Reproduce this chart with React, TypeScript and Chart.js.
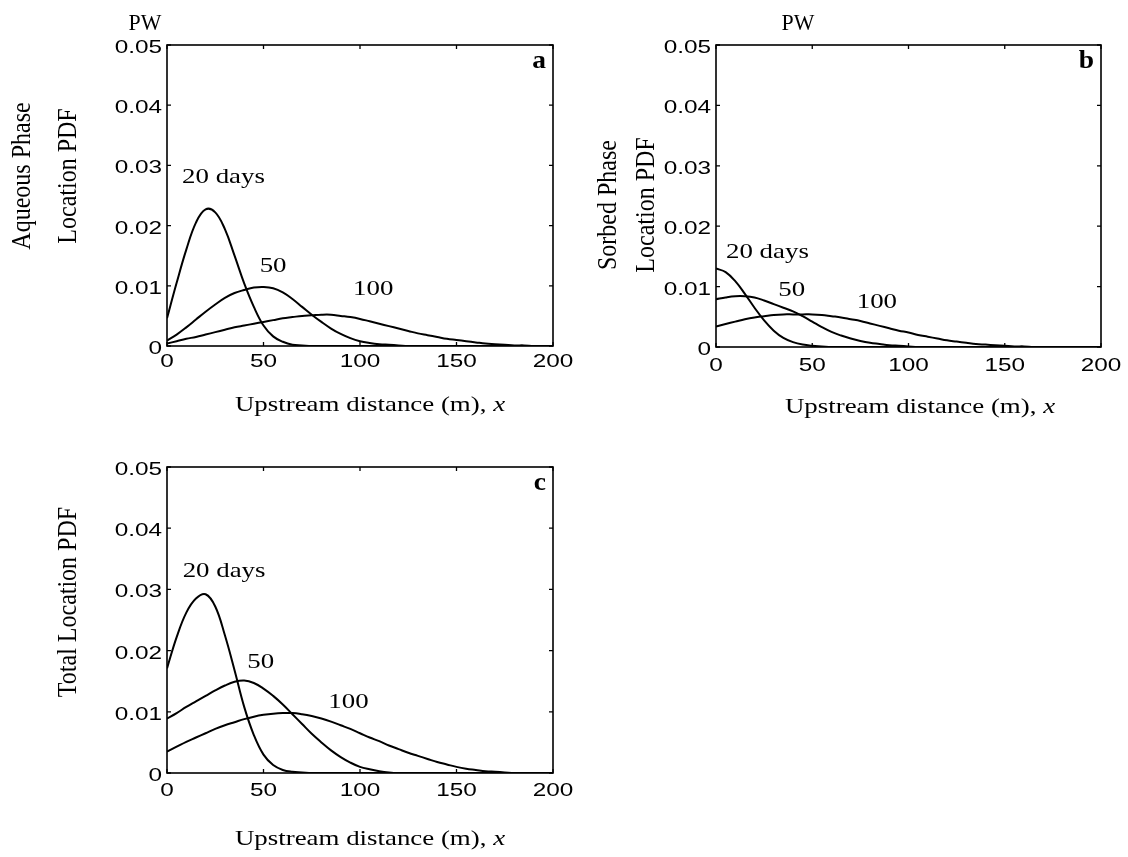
import React, { useEffect, useRef } from "react";
import { Chart, registerables } from "chart.js";

Chart.register(...registerables);

// ---------- data ----------
const X_GRID = [
  0, 5, 10, 15, 20, 25, 30, 35, 40, 45, 50, 55, 60, 65, 70, 75, 80, 85, 90, 95, 100,
  105, 110, 115, 120, 125, 130, 135, 140, 145, 150, 155, 160, 165, 170, 175, 180, 185, 190, 195, 200,
];

const X_TICKS = [0, 50, 100, 150, 200];
const Y_TICKS = [0, 0.01, 0.02, 0.03, 0.04, 0.05];

// Panel a: aqueous phase
const AQ_20 = [
  0.0046, 0.0105, 0.016, 0.0205, 0.0227, 0.0222, 0.0194, 0.015, 0.0104, 0.0065, 0.0034, 0.0016, 0.0007, 0.0002, 0.0001,
  0, 0, 0, 0, 0, 0, 0, 0, 0, 0, 0, 0, 0, 0, 0, 0, 0, 0, 0, 0, 0, 0, 0, 0, 0, 0,
];
const AQ_50 = [
  0.0009, 0.0019, 0.0031, 0.0044, 0.0057, 0.0069, 0.008, 0.0088, 0.0093, 0.0097, 0.0098, 0.0096, 0.0089, 0.0078, 0.0065,
  0.0052, 0.004, 0.0029, 0.002, 0.0013, 0.0008, 0.0005, 0.0003, 0.0002, 0.0001,
  0, 0, 0, 0, 0, 0, 0, 0, 0, 0, 0, 0, 0, 0, 0, 0,
];
const AQ_100 = [
  0.0004, 0.0008, 0.0012, 0.0015, 0.0019, 0.0023, 0.0027, 0.0031, 0.0034, 0.0037, 0.004, 0.0043, 0.0046, 0.0048, 0.005,
  0.0051, 0.0052, 0.0052, 0.005, 0.0048, 0.0045, 0.0041, 0.0037, 0.0033, 0.0029, 0.0025, 0.0021, 0.0018, 0.0015, 0.0012,
  0.001, 0.0008, 0.0006, 0.0004, 0.0003, 0.0002, 0.0001, 0.0001, 0, 0, 0,
];

// Panel b: sorbed phase
const SO_20 = [
  0.013, 0.0124, 0.0109, 0.0088, 0.0065, 0.0044, 0.0027, 0.0015, 0.0008, 0.0004, 0.0002, 0.0001,
  0, 0, 0, 0, 0, 0, 0, 0, 0, 0, 0, 0, 0, 0, 0, 0, 0, 0, 0, 0, 0, 0, 0, 0, 0, 0, 0, 0, 0,
];
const SO_50 = [
  0.0079, 0.0082, 0.0084, 0.0084, 0.0082, 0.0077, 0.0071, 0.0065, 0.0059, 0.0051, 0.0042, 0.0033, 0.0025, 0.0019, 0.0014,
  0.001, 0.0007, 0.0005, 0.0003, 0.0002, 0.0001,
  0, 0, 0, 0, 0, 0, 0, 0, 0, 0, 0, 0, 0, 0, 0, 0, 0, 0, 0, 0,
];
const SO_100 = [
  0.0034, 0.0038, 0.0042, 0.0046, 0.0049, 0.0051, 0.0053, 0.0054, 0.0054, 0.0054, 0.0054, 0.0053, 0.0051, 0.0049, 0.0046,
  0.0043, 0.0039, 0.0035, 0.0031, 0.0027, 0.0024, 0.002, 0.0017, 0.0014, 0.0011, 0.0009, 0.0007, 0.0005, 0.0004, 0.0003,
  0.0002, 0.0001, 0.0001, 0, 0, 0, 0, 0, 0, 0, 0,
];

// Panel c: total
const TO_20 = [
  0.0171, 0.0222, 0.0262, 0.0285, 0.0292, 0.0272, 0.0225, 0.0168, 0.0108, 0.0062, 0.003, 0.0013, 0.0005, 0.0002, 0.0001,
  0, 0, 0, 0, 0, 0, 0, 0, 0, 0, 0, 0, 0, 0, 0, 0, 0, 0, 0, 0, 0, 0, 0, 0, 0, 0,
];
const TO_50 = [
  0.0089, 0.0098, 0.0108, 0.0117, 0.0126, 0.0135, 0.0143, 0.0149, 0.0151, 0.0147, 0.0138, 0.0126, 0.0112, 0.0096, 0.008,
  0.0064, 0.005, 0.0037, 0.0026, 0.0017, 0.001, 0.0006, 0.0003, 0.0001,
  0, 0, 0, 0, 0, 0, 0, 0, 0, 0, 0, 0, 0, 0, 0, 0, 0,
];
const TO_100 = [
  0.0035, 0.0043, 0.0051, 0.0058, 0.0065, 0.0072, 0.0078, 0.0083, 0.0088, 0.0092, 0.0095, 0.0097, 0.0098, 0.0098, 0.0096,
  0.0093, 0.0089, 0.0084, 0.0078, 0.0072, 0.0065, 0.0058, 0.0052, 0.0045, 0.0039, 0.0033, 0.0028, 0.0023, 0.0018, 0.0014,
  0.001, 0.0007, 0.0005, 0.0003, 0.0002, 0.0001, 0, 0, 0, 0, 0,
];

// curve labels: text, x (m), y (pdf) — left/baseline anchor
const LABEL_TEXT = ["20 days", "50", "100"];
const AQ_LABEL_X = [7.8, 48, 96.4];
const AQ_LABEL_Y = [0.0271, 0.0123, 0.0085];
const SO_LABEL_X = [5.2, 32.4, 73.1];
const SO_LABEL_Y = [0.0147, 0.0084, 0.0064];
const TO_LABEL_X = [8.1, 41.6, 83.6];
const TO_LABEL_Y = [0.032, 0.0171, 0.0107];

const X_TITLE = "Upstream distance (m), ";
const X_TITLE_VAR = "x";

// ---------- layout / style ----------
const W = 1128;
const H = 857;
const SERIF = "'Liberation Serif', 'Times New Roman', serif";
const SANS = "'Liberation Sans', Arial, sans-serif";
const SX = 1.28;

type Panel = {
  area: { l: number; t: number; r: number; b: number };
  series: number[][];
  labelX: number[]; labelY: number[];
  letter: string;
  pw: { x: number; y: number } | null;
  yTitle: string[]; yTitleX: number[]; yTitleY: number;
  xTitleX: number; xTitleY: number; xTickDy: number;
};

const PANELS: Panel[] = [
  {
    area: { l: 167, t: 45, r: 553, b: 346 },
    series: [AQ_20, AQ_50, AQ_100],
    labelX: AQ_LABEL_X, labelY: AQ_LABEL_Y,
    letter: "a",
    pw: { x: 145, y: 30 },
    yTitle: ["Aqueous Phase", "Location PDF"], yTitleX: [30, 76], yTitleY: 176,
    xTitleX: 370, xTitleY: 411, xTickDy: 21,
  },
  {
    area: { l: 716, t: 45, r: 1101, b: 347 },
    series: [SO_20, SO_50, SO_100],
    labelX: SO_LABEL_X, labelY: SO_LABEL_Y,
    letter: "b",
    pw: { x: 798, y: 30 },
    yTitle: ["Sorbed Phase", "Location PDF"], yTitleX: [616, 654], yTitleY: 205,
    xTitleX: 920, xTitleY: 413, xTickDy: 24,
  },
  {
    area: { l: 167, t: 467, r: 553, b: 773 },
    series: [TO_20, TO_50, TO_100],
    labelX: TO_LABEL_X, labelY: TO_LABEL_Y,
    letter: "c",
    pw: null,
    yTitle: ["Total Location PDF"], yTitleX: [76], yTitleY: 602,
    xTitleX: 370, xTitleY: 845, xTickDy: 23,
  },
];

function drawStr(
  ctx: CanvasRenderingContext2D, text: string, x: number, y: number, font: string,
  align: CanvasTextAlign, sx: number, rot = false
) {
  ctx.save();
  ctx.translate(x, y);
  ctx.scale(sx, 1);
  if (rot) ctx.rotate(-Math.PI / 2);
  ctx.font = font;
  ctx.textAlign = align;
  ctx.textBaseline = "alphabetic";
  ctx.fillStyle = "#000";
  ctx.fillText(text, 0, 0);
  ctx.restore();
}

function makePlugin(p: Panel) {
  return {
    id: "panelDecor",
    afterDraw(chart: any) {
      const ctx: CanvasRenderingContext2D = chart.ctx;
      const ca = chart.chartArea;
      const xs = chart.scales.x;
      const ys = chart.scales.y;
      ctx.save();
      // frame
      ctx.strokeStyle = "#000";
      ctx.lineWidth = 1.6;
      ctx.strokeRect(ca.left, ca.top, ca.right - ca.left, ca.bottom - ca.top);
      // inward ticks
      ctx.lineWidth = 1.3;
      ctx.beginPath();
      xs.ticks.forEach((t: any) => {
        const px = xs.getPixelForValue(t.value);
        ctx.moveTo(px, ca.bottom); ctx.lineTo(px, ca.bottom - 4);
        ctx.moveTo(px, ca.top); ctx.lineTo(px, ca.top + 4);
      });
      ys.ticks.forEach((t: any) => {
        const py = ys.getPixelForValue(t.value);
        ctx.moveTo(ca.left, py); ctx.lineTo(ca.left + 4, py);
        ctx.moveTo(ca.right, py); ctx.lineTo(ca.right - 4, py);
      });
      ctx.stroke();
      // tick labels
      const tickFont = `19px ${SANS}`;
      xs.ticks.forEach((t: any) => {
        const px = xs.getPixelForValue(t.value);
        drawStr(ctx, String(Math.round(t.value)), px, ca.bottom + p.xTickDy, tickFont, "center", SX);
      });
      ys.ticks.forEach((t: any) => {
        const py = ys.getPixelForValue(t.value);
        const s = Math.abs(t.value) < 1e-9 ? "0" : t.value.toFixed(2);
        drawStr(ctx, s, ca.left - 5, py + 8, tickFont, "right", SX);
      });
      // curve labels
      const annFont = `21px ${SERIF}`;
      LABEL_TEXT.forEach((txt, i) => {
        drawStr(ctx, txt, xs.getPixelForValue(p.labelX[i]), ys.getPixelForValue(p.labelY[i]), annFont, "left", SX);
      });
      // panel letter
      drawStr(ctx, p.letter, ca.right - 7, ca.top + 23, `bold 25px ${SERIF}`, "right", 1.1);
      // PW
      if (p.pw) drawStr(ctx, "PW", p.pw.x, p.pw.y, `23px ${SERIF}`, "center", 0.95);
      // y title(s)
      p.yTitle.forEach((t, i) => {
        drawStr(ctx, t, p.yTitleX[i], p.yTitleY, `24px ${SERIF}`, "center", 1.15, true);
      });
      // x title with italic variable
      const f1 = `21px ${SERIF}`;
      const f2 = `italic 21px ${SERIF}`;
      ctx.font = f1;
      const w1 = ctx.measureText(X_TITLE).width * SX;
      ctx.font = f2;
      const w2 = ctx.measureText(X_TITLE_VAR).width * SX;
      const start = p.xTitleX - (w1 + w2) / 2;
      drawStr(ctx, X_TITLE, start, p.xTitleY, f1, "left", SX);
      drawStr(ctx, X_TITLE_VAR, start + w1, p.xTitleY, f2, "left", SX);
      ctx.restore();
    },
  };
}

function buildConfig(p: Panel): any {
  const yW = p.area.l;
  const xH = H - p.area.b;
  return {
    type: "line",
    data: {
      datasets: p.series.map((ys) => ({
        data: X_GRID.map((x, i) => ({ x, y: ys[i] })),
        borderColor: "#000",
        borderWidth: 2,
        pointRadius: 0,
        fill: false,
        tension: 0.4,
      })),
    },
    options: {
      responsive: false,
      animation: false,
      devicePixelRatio: 1,
      events: [],
      layout: { padding: { left: 0, top: p.area.t, right: W - p.area.r, bottom: 0 } },
      plugins: { legend: { display: false }, tooltip: { enabled: false }, title: { display: false } },
      scales: {
        x: {
          type: "linear",
          min: X_TICKS[0],
          max: X_TICKS[X_TICKS.length - 1],
          afterBuildTicks: (s: any) => { s.ticks = X_TICKS.map((v) => ({ value: v })); },
          ticks: { display: false },
          grid: { display: false },
          border: { display: false },
          afterFit: (s: any) => { s.height = xH; },
        },
        y: {
          type: "linear",
          min: Y_TICKS[0],
          max: Y_TICKS[Y_TICKS.length - 1],
          afterBuildTicks: (s: any) => { s.ticks = Y_TICKS.map((v) => ({ value: v })); },
          ticks: { display: false },
          grid: { display: false },
          border: { display: false },
          afterFit: (s: any) => { s.width = yW; },
        },
      },
    },
    plugins: [makePlugin(p)],
  };
}

export default function App() {
  const refs = useRef<(HTMLCanvasElement | null)[]>([]);
  useEffect(() => {
    const charts = PANELS.map((p, i) => new Chart(refs.current[i] as HTMLCanvasElement, buildConfig(p)));
    return () => charts.forEach((c) => c.destroy());
  }, []);
  return (
    <div style={{ position: "absolute", left: 0, top: 0, width: W, height: H, background: "#fff" }}>
      {PANELS.map((p, i) => (
        <canvas
          key={i}
          ref={(el) => { refs.current[i] = el; }}
          width={W}
          height={H}
          style={{ position: "absolute", left: 0, top: 0, width: W, height: H }}
        />
      ))}
    </div>
  );
}
